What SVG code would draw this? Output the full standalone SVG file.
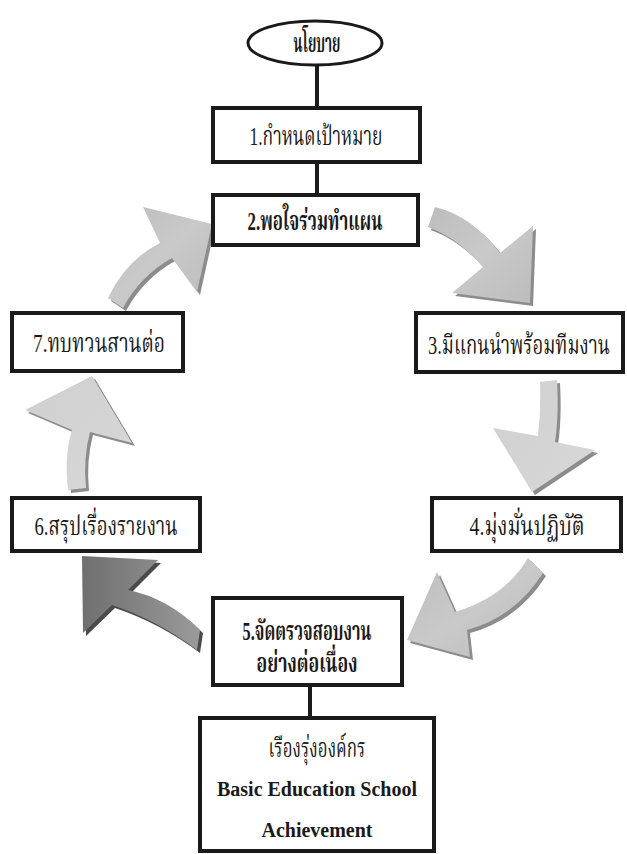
<svg xmlns="http://www.w3.org/2000/svg" width="627" height="854" viewBox="0 0 627 854">
  <style>
    .box { fill: #ffffff; stroke: #1a1a1a; stroke-width: 4; }
    .lbl { font-family: "Liberation Serif", "Noto Serif Thai", "Noto Sans Thai", serif; font-size: 26px; fill: #1a1a1a; text-anchor: middle; }
    .b { font-weight: bold; }
    .en { font-family: "Liberation Serif", serif; font-size: 20px; font-weight: bold; fill: #1a1a1a; text-anchor: middle; }
    .link { stroke: #1a1a1a; stroke-width: 4; fill: none; }
    .shadow { fill: #8c8c8c; }
    .shadow-dk { fill: #4a4a4a; }
  </style>
  <defs>
    <linearGradient id="grayFill" x1="0" y1="0" x2="1" y2="1">
      <stop offset="0" stop-color="#bdbdbd"/>
      <stop offset="0.5" stop-color="#c9c9c9"/>
      <stop offset="1" stop-color="#bcbcbc"/>
    </linearGradient>
    <linearGradient id="lightFill" x1="0" y1="0" x2="1" y2="1">
      <stop offset="0" stop-color="#cfcfcf"/>
      <stop offset="1" stop-color="#d8d8d8"/>
    </linearGradient>
    <linearGradient id="darkFill" x1="0" y1="0" x2="1" y2="0">
      <stop offset="0" stop-color="#6f6f6f"/>
      <stop offset="1" stop-color="#9a9a9a"/>
    </linearGradient>
  </defs>

  <!-- straight links -->
  <g id="connectors">
    <line class="link" x1="317" y1="65" x2="317" y2="108"/>
    <line class="link" x1="317" y1="162" x2="317" y2="195"/>
    <line class="link" x1="310" y1="685" x2="310" y2="718"/>

    <!-- curved block arrows around the cycle -->
    <g id="arrow-2-3">
      <path class="shadow" transform="translate(3,3)" d="M435,207 Q472,216 500,253 L533,226 L530,303 L452,293 L483,267 Q458,238 428,227 Z"/>
      <path fill="url(#grayFill)" d="M435,207 Q472,216 500,253 L533,226 L530,303 L452,293 L483,267 Q458,238 428,227 Z"/>
    </g>
    <g id="arrow-3-4">
      <path class="shadow" transform="translate(3,3)" d="M540,382 L557,380 Q559,415 555,442 L595,450 L532,492 L493,428 L538,436 Q541,410 540,382 Z"/>
      <path fill="url(#lightFill)" d="M540,382 L557,380 Q559,415 555,442 L595,450 L532,492 L493,428 L538,436 Q541,410 540,382 Z"/>
    </g>
    <g id="arrow-4-5">
      <path class="shadow" transform="translate(3,3)" d="M528,558 L543,573 Q515,617 467,630 L470,657 L407,640 L437,572 L455,612 Q505,597 528,558 Z"/>
      <path fill="url(#grayFill)" d="M528,558 L543,573 Q515,617 467,630 L470,657 L407,640 L437,572 L455,612 Q505,597 528,558 Z"/>
    </g>
    <g id="arrow-5-6">
      <path class="shadow-dk" transform="translate(3,3)" d="M200,630 Q168,598 128,590 L158,560 L82,556 L83,633 L112,605 Q157,620 197,650 Z"/>
      <path fill="url(#darkFill)" d="M200,630 Q168,598 128,590 L158,560 L82,556 L83,633 L112,605 Q157,620 197,650 Z"/>
    </g>
    <g id="arrow-6-7">
      <path class="shadow" transform="translate(3,3)" d="M68,490 Q64,455 72,430 L25,410 L92,376 L132,443 L90,432 Q83,458 86,488 Z"/>
      <path fill="url(#lightFill)" d="M68,490 Q64,455 72,430 L25,410 L92,376 L132,443 L90,432 Q83,458 86,488 Z"/>
    </g>
    <g id="arrow-7-2">
      <path class="shadow" transform="translate(3,3)" d="M108,298 Q126,260 160,243 L143,207 L212,224 L197,292 L172,258 Q140,276 123,308 Z"/>
      <path fill="url(#grayFill)" d="M108,298 Q126,260 160,243 L143,207 L212,224 L197,292 L172,258 Q140,276 123,308 Z"/>
    </g>
  </g>

  <g id="policy">
    <ellipse cx="315" cy="43" rx="67" ry="22" fill="#ffffff" stroke="#1a1a1a" stroke-width="3"/>
    <text class="lbl b" x="317" y="52" textLength="47" lengthAdjust="spacingAndGlyphs">นโยบาย</text>
  </g>

  <g id="step1">
    <rect class="box" x="213" y="108" width="207" height="54"/>
    <text class="lbl" x="316" y="145" textLength="133" lengthAdjust="spacingAndGlyphs">1.กำหนดเป้าหมาย</text>
  </g>

  <g id="step2">
    <rect class="box" x="213" y="195" width="205" height="50"/>
    <text class="lbl b" x="315" y="230" textLength="135" lengthAdjust="spacingAndGlyphs">2.พอใจร่วมทำแผน</text>
  </g>

  <g id="step3">
    <rect class="box" x="416" y="313" width="207" height="59"/>
    <text class="lbl" x="519" y="354" font-size="25" textLength="182" lengthAdjust="spacingAndGlyphs">3.มีแกนนำพร้อมทีมงาน</text>
  </g>

  <g id="step4">
    <rect class="box" x="432" y="498" width="189" height="53"/>
    <text class="lbl" x="527" y="535" textLength="115" lengthAdjust="spacingAndGlyphs">4.มุ่งมั่นปฏิบัติ</text>
  </g>

  <g id="step5">
    <rect class="box" x="213" y="598" width="189" height="87"/>
    <text class="lbl b" x="307" y="640" textLength="129" lengthAdjust="spacingAndGlyphs">5.จัดตรวจสอบงาน</text>
    <text class="lbl b" x="307" y="672" textLength="101" lengthAdjust="spacingAndGlyphs">อย่างต่อเนื่อง</text>
  </g>

  <g id="step6">
    <rect class="box" x="12" y="498" width="188" height="53"/>
    <text class="lbl" x="106" y="535" textLength="143" lengthAdjust="spacingAndGlyphs">6.สรุปเรื่องรายงาน</text>
  </g>

  <g id="step7">
    <rect class="box" x="12" y="313" width="171" height="58"/>
    <text class="lbl" x="99" y="352" textLength="132" lengthAdjust="spacingAndGlyphs">7.ทบทวนสานต่อ</text>
  </g>

  <g id="result">
    <rect class="box" x="200" y="718" width="234" height="133"/>
    <text class="lbl" x="317" y="757" textLength="97" lengthAdjust="spacingAndGlyphs">เรืองรุ่งองค์กร</text>
    <text class="en" x="317" y="796">Basic Education School</text>
    <text class="en" x="317" y="837">Achievement</text>
  </g>
</svg>
